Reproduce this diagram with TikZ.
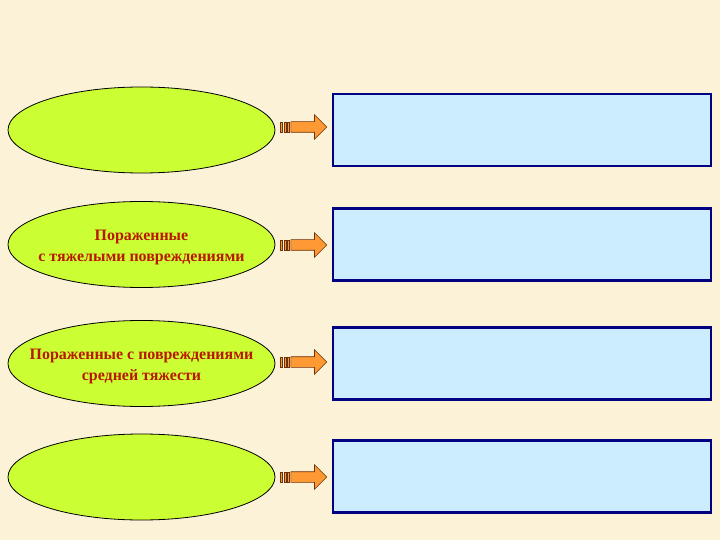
\documentclass[tikz,border=0pt]{standalone}
\usepackage{fontspec}
\setmainfont{Liberation Serif}
\usetikzlibrary{shapes.geometric, shapes.arrows, positioning}
\definecolor{paper}{RGB}{252,242,216}
\definecolor{limefill}{RGB}{204,255,51}
\definecolor{skyfill}{RGB}{204,236,255}
\definecolor{navyline}{RGB}{0,0,128}
\definecolor{redtext}{RGB}{185,24,0}
\definecolor{arrowfill}{RGB}{255,153,51}
\definecolor{arrowline}{RGB}{110,50,10}

\begin{document}
\begin{tikzpicture}[x=1bp, y=-1bp,
        group/.style={draw, ellipse, fill=limefill, line width=0.8bp, minimum width=267bp, minimum height=86bp, inner sep=0pt},
        grouptext/.style={align=center, text=redtext, font=\fontsize{16}{21}\selectfont\bfseries, yshift=-3bp},
        info/.style={draw=navyline, rectangle, fill=skyfill, line width=2.2bp, minimum width=378bp, minimum height=72bp},
        arrowbody/.style={draw=arrowline, single arrow, fill=arrowfill, line width=0.6bp, minimum height=36bp, minimum width=24bp,
            inner sep=5bp, single arrow head extend=7bp, single arrow head indent=0pt},
        stripe/.style={draw=arrowline, fill=arrowfill, line width=0.6bp, minimum width=2bp, minimum height=10bp, inner sep=0pt}
    ]
        % background
        \fill[paper] (0,0) rectangle (720,540);

        % left column
        \node[group] (g1) at (141.5,130) {};
        \node[group] (g2) at (141.5,244.5) {};
        \node[group] (g3) at (141.5,363.5) {};
        \node[group] (g4) at (141.5,477) {};
        \node[grouptext] (t2) at (g2) {Пораженные\\с тяжелыми повреждениями};
        \node[grouptext] (t3) at (g3) {Пораженные с повреждениями\\средней тяжести};

        % right column
        \node[info] (i1) at (522,130) {};
        \node[info] (i2) at (522,244.5) {};
        \node[info] (i3) at (522,363.5) {};
        \node[info] (i4) at (522,476.5) {};

        % arrows
        \foreach \n/\y in {1/127, 2/245, 3/362, 4/477} {
            \node[stripe] (s\n a) at (281.5,\y) {};
            \node[stripe, right=1bp of s\n a] (s\n b) {};
            \node[stripe, right=1bp of s\n b] (s\n c) {};
            \node[arrowbody, anchor=tail, right=0.5bp of s\n c] (a\n) {};
        }

    \end{tikzpicture}
\end{document}
